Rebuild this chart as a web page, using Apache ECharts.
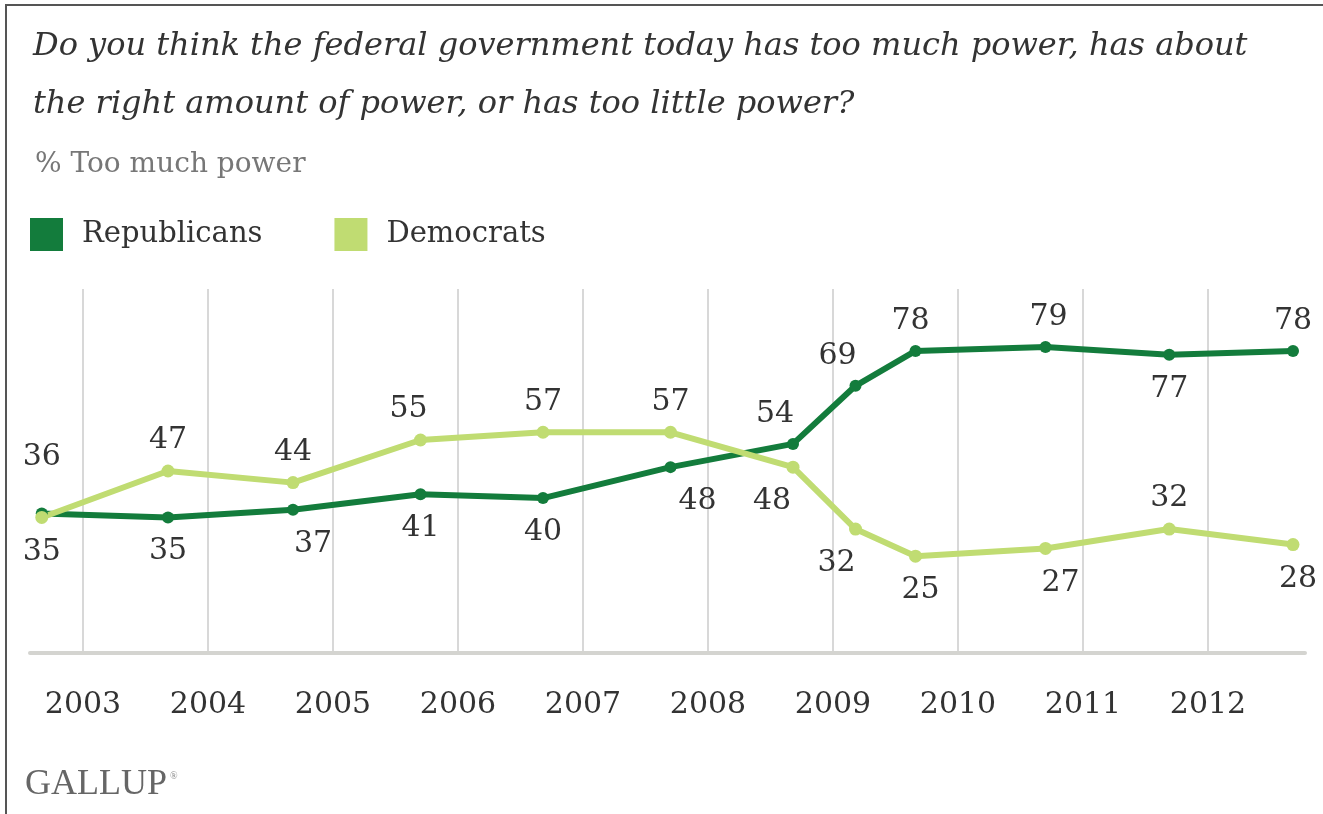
<!DOCTYPE html>
<html>
<head>
<meta charset="utf-8">
<title>Federal government power</title>
<script src="https://cdn.jsdelivr.net/npm/echarts@6/dist/echarts.min.js"></script>
<style>
  html, body { margin: 0; padding: 0; background: #fff; }
  #chart { width: 1323px; height: 814px; }
</style>
</head>
<body>
<div id="chart"></div>
<script>
// poll dates as decimal years (Sept polls, plus March 2009)
var pollX = [2002.67, 2003.68, 2004.68, 2005.70, 2006.68, 2007.70, 2008.68, 2009.18, 2009.66, 2010.70, 2011.69, 2012.68];
var republicans = [36, 35, 37, 41, 40, 48, 54, 69, 78, 79, 77, 78];
var democrats = [35, 47, 44, 55, 57, 57, 48, 32, 25, 27, 32, 28];
var yearTicks = [2003, 2004, 2005, 2006, 2007, 2008, 2009, 2010, 2011, 2012];

// label side for each point: t = above, b = below
var repSide = ['t', 'b', 'b', 'b', 'b', 'b', 't', 't', 't', 't', 'b', 't'];
var demSide = ['b', 't', 't', 't', 't', 't', 'b', 'b', 'b', 'b', 't', 'b'];
// small nudges so labels clear the lines
var repShift = [0, 0, 20, 0, 0, 27, -18, -18, -5, 3, 0, 0];
var demShift = [0, 0, 0, -12, 0, 0, -21, -19, 5, 15, 0, 5];
var repLift = [-26, 0, 0, 0, 0, 0, 0, 0, 0, 0, 0, 0];

var darkGreen = '#137c3c';
var lightGreen = '#c0dc72';
var serif = '"DejaVu Serif", serif';

function buildData(values, sides, shifts, lifts) {
    return values.map(function (v, i) {
        var up = sides[i] === 't';
        var dy = (up ? -4 : 8) + (lifts ? lifts[i] : 0);
        return {
            value: [pollX[i], v],
            label: {
                position: up ? 'top' : 'bottom',
                offset: [shifts[i], dy]
            }
        };
    });
}

var chart = echarts.init(document.getElementById('chart'));

chart.setOption({
    backgroundColor: '#fff',
    animation: false,
    title: [
        {
            text: 'Do you think the federal government today has too much power, has about\nthe right amount of power, or has too little power?',
            left: 28,
            top: 13,
            textStyle: {
                fontFamily: serif,
                fontStyle: 'italic',
                fontWeight: 'normal',
                fontSize: 32,
                lineHeight: 58,
                color: '#333'
            }
        },
        {
            text: '% Too much power',
            left: 30,
            top: 146,
            textStyle: {
                fontFamily: serif,
                fontWeight: 'normal',
                fontSize: 28,
                color: '#777'
            }
        }
    ],
    legend: {
        left: 30,
        top: 218,
        padding: 0,
        icon: 'rect',
        itemWidth: 33,
        itemHeight: 33,
        itemGap: 72,
        data: ['Republicans', 'Democrats'],
        textStyle: {
            fontFamily: serif,
            fontSize: 29,
            color: '#333',
            padding: [0, 0, 0, 14]
        }
    },
    grid: {
        left: 30,
        right: 18,
        top: 289,
        bottom: 161
    },
    xAxis: {
        type: 'value',
        min: 2002.576,
        max: 2012.776,
        axisLine: {
            show: true,
            lineStyle: { color: '#d4d4d0', width: 4 }
        },
        axisTick: {
            show: false,
            customValues: yearTicks
        },
        axisLabel: {
            customValues: yearTicks,
            formatter: function (v) { return String(v); },
            fontFamily: serif,
            fontSize: 30,
            color: '#333',
            margin: 37
        },
        splitLine: {
            show: true,
            lineStyle: { color: '#d8d8d8', width: 2 }
        }
    },
    yAxis: {
        type: 'value',
        min: 0,
        max: 94,
        show: false,
        splitLine: { show: false }
    },
    series: [
        {
            name: 'Republicans',
            type: 'line',
            data: buildData(republicans, repSide, repShift, repLift),
            color: darkGreen,
            lineStyle: { width: 6, color: darkGreen },
            symbol: 'circle',
            symbolSize: 12,
            itemStyle: { color: darkGreen },
            label: {
                show: true,
                formatter: function (p) { return p.value[1]; },
                fontFamily: serif,
                fontSize: 30,
                color: '#333'
            }
        },
        {
            name: 'Democrats',
            type: 'line',
            data: buildData(democrats, demSide, demShift),
            color: lightGreen,
            lineStyle: { width: 6, color: lightGreen },
            symbol: 'circle',
            symbolSize: 13,
            itemStyle: { color: lightGreen },
            label: {
                show: true,
                formatter: function (p) { return p.value[1]; },
                fontFamily: serif,
                fontSize: 30,
                color: '#333'
            }
        }
    ],
    graphic: [
        {
            type: 'line',
            shape: { x1: 5, y1: 5, x2: 1323, y2: 5 },
            style: { stroke: '#555', lineWidth: 2 }
        },
        {
            type: 'line',
            shape: { x1: 6, y1: 5, x2: 6, y2: 814 },
            style: { stroke: '#555', lineWidth: 2 }
        },
        {
            type: 'text',
            left: 25,
            top: 767,
            style: {
                text: 'GALLUP',
                font: '36px "Liberation Serif", serif',
                fill: '#666'
            }
        },
        {
            type: 'text',
            left: 170,
            top: 771,
            style: {
                text: '\u00ae',
                font: '10px "Liberation Serif", serif',
                fill: '#888'
            }
        }
    ]
});

window.onresize = function () {
    chart.resize();
};
</script>
</body>
</html>
